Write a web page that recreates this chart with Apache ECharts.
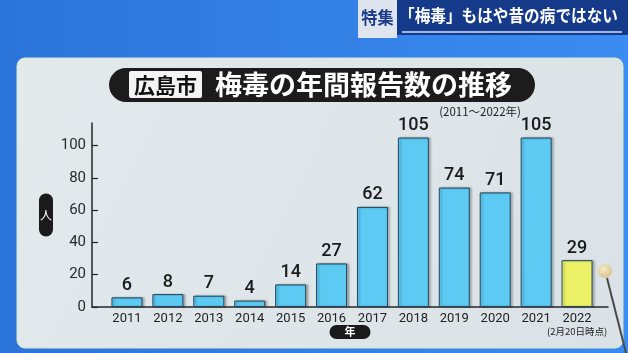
<!DOCTYPE html>
<html><head><meta charset="utf-8">
<script src="https://cdn.jsdelivr.net/npm/echarts@6/dist/echarts.min.js"></script>
<style>html,body{margin:0;padding:0;background:#2f7fe0}#c{width:628px;height:353px}</style>
</head><body><div id="c"></div>
<script>
const years = ['2011','2012','2013','2014','2015','2016','2017','2018','2019','2020','2021','2022'];
const cases = [6, 8, 7, 4, 14, 27, 62, 105, 74, 71, 105, 29];
const yTicks = [0, 20, 40, 60, 80, 100];
const lastNote = '(2月20日時点)';
const titleCity = '広島市';
const titleMain = '梅毒の年間報告数の推移';
const subtitle = '(2011～2022年)';
const bannerTag = '特集';
const bannerText = '「梅毒」もはや昔の病ではない';
const yName = '人';
const xName = '年';

const JP = '"Noto Sans CJK JP", "Noto Sans", sans-serif';
const NUM = 'Roboto, "Liberation Sans", sans-serif';

const chart = echarts.init(document.getElementById('c'), null, {renderer: 'canvas'});
const option = {
  animation: false,
  backgroundColor: {type: 'linear', x: 0, y: 0, x2: 1, y2: 0, colorStops: [
    {offset: 0, color: '#2b74da'}, {offset: 1, color: '#3b8cf0'}]},
  graphic: [
    {type: 'rect', z: -5, shape: {x: 17, y: 58, width: 606, height: 290, r: 8},
      style: {fill: {type: 'linear', x: 0, y: 0, x2: 1, y2: 1, colorStops: [
        {offset: 0, color: '#e3eaec'}, {offset: 1, color: '#dae2e7'}]}, stroke: '#d6e8d0', lineWidth: 1}},
    {type: 'rect', z: 5, shape: {x: 358, y: 0, width: 39, height: 38}, style: {fill: '#dfe5ef'}},
    {type: 'text', z: 6, x: 377.5, y: 18, scaleX: 0.95, style: {text: bannerTag, fill: '#1a3a8a', font: 'bold 17px ' + JP, align: 'center', verticalAlign: 'middle'}},
    {type: 'rect', z: 5, shape: {x: 397, y: 0, width: 231, height: 35}, style: {fill: '#163a8a'}},
    {type: 'text', z: 6, x: 399, y: 16, scaleX: 0.92, style: {text: bannerText, fill: '#ffffff', font: 'bold 17px ' + JP, align: 'left', verticalAlign: 'middle'}},
    {type: 'line', z: 6, shape: {x1: 402, y1: 32, x2: 622, y2: 32}, style: {stroke: '#cfe0ff', lineWidth: 1.5}},
    {type: 'rect', z: 5, shape: {x: 109, y: 68, width: 426, height: 34, r: 17}, style: {fill: '#1c1c1c'}},
    {type: 'rect', z: 6, shape: {x: 129, y: 71, width: 73, height: 27, r: 2}, style: {fill: '#f4f4f4'}},
    {type: 'text', z: 7, x: 165.5, y: 85, style: {text: titleCity, fill: '#111', font: 'bold 21px ' + JP, align: 'center', verticalAlign: 'middle'}},
    {type: 'text', z: 7, x: 215, y: 85, style: {text: titleMain, fill: '#ffffff', font: 'bold 27px ' + JP, align: 'left', verticalAlign: 'middle'}},
    {type: 'text', z: 7, x: 521, y: 112, style: {text: subtitle, fill: '#222', font: '11.5px ' + JP, align: 'right', verticalAlign: 'middle'}},
    {type: 'line', z: 8, shape: {x1: 607, y1: 278, x2: 626, y2: 353}, style: {stroke: '#4a4a4a', lineWidth: 2}},
    {type: 'circle', z: 9, shape: {cx: 605, cy: 271, r: 7}, style: {fill: {type: 'radial', x: 0.4, y: 0.35, r: 0.7, colorStops: [
      {offset: 0, color: '#f6ecc4'}, {offset: 1, color: '#d9c088'}]}}}
  ],
  grid: [
    {left: 92, right: 20, top: 123, bottom: 46},
    {left: 106.5, right: 30.5, top: 123, bottom: 46}
  ],
  xAxis: [
    {gridIndex: 0, type: 'category', data: years, boundaryGap: true,
      axisLine: {lineStyle: {color: '#262626', width: 1.5}}, axisTick: {show: false}, axisLabel: {show: false},
      name: xName, nameLocation: 'middle', nameGap: 18,
      nameTextStyle: {color: '#fff', fontFamily: JP, fontSize: 11, fontWeight: 'bold', backgroundColor: '#1a1a1a',
        borderRadius: 7, padding: [1, 15], lineHeight: 12}},
    {gridIndex: 1, type: 'category', data: years, boundaryGap: true,
      axisLine: {show: false}, axisTick: {show: false},
      axisLabel: {margin: 5, interval: 0,
        formatter: function (v, i) { return i === years.length - 1 ? '{a|' + v + '}\n{b|' + lastNote + '}' : '{a|' + v + '}'; },
        rich: {a: {fontSize: 13, fontFamily: NUM, color: '#222', lineHeight: 13},
               b: {fontSize: 9.5, fontFamily: JP, color: '#222', lineHeight: 12}}}}
  ],
  yAxis: [
    {gridIndex: 0, type: 'value', min: 0, max: 114,
      axisLine: {show: true, lineStyle: {color: '#262626', width: 1.5}},
      axisTick: {show: true, inside: true, length: 6, customValues: yTicks, lineStyle: {color: '#262626', width: 1.2}},
      axisLabel: {customValues: yTicks, fontSize: 15, fontFamily: NUM, color: '#2a2a2a', margin: 6},
      splitLine: {show: false},
      name: yName, nameLocation: 'middle', nameRotate: 0, nameGap: 39,
      nameTextStyle: {color: '#fff', fontFamily: JP, fontSize: 12, backgroundColor: '#1a1a1a',
        borderRadius: 7, padding: [15, 1], lineHeight: 13}},
    {gridIndex: 1, type: 'value', min: 0, max: 114, show: false}
  ],
  series: [{
    type: 'bar', xAxisIndex: 1, yAxisIndex: 1, data: cases, barWidth: 31,
    itemStyle: {
      color: function (p) { return p.dataIndex === cases.length - 1 ? '#ecf065' : '#5ccaf3'; },
      borderColor: '#23465c', borderWidth: 1,
      shadowColor: 'rgba(0,0,0,0.25)', shadowOffsetX: 2, shadowBlur: 2
    },
    label: {show: true, position: 'top', distance: 3, fontSize: 18, fontFamily: NUM, fontWeight: 500, color: '#1b1b1b'}
  }]
};
chart.setOption(option);
</script>
</body></html>
